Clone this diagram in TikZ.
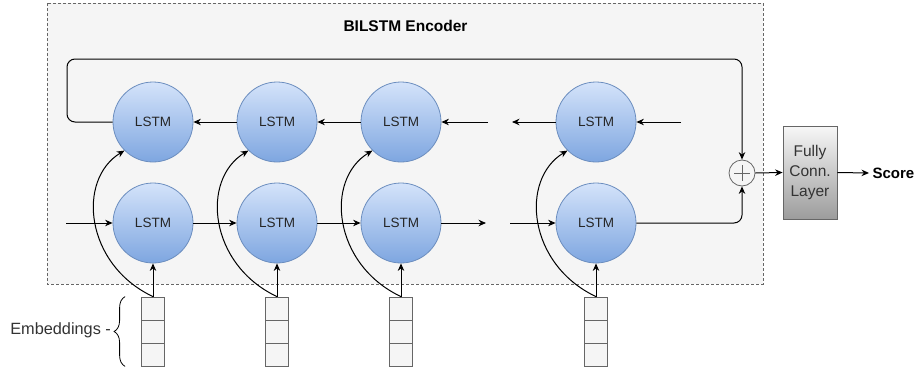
\documentclass[tikz,border=0pt]{standalone}
\usepackage{fontspec}
\setmainfont{Liberation Sans}
\usetikzlibrary{arrows.meta,decorations.pathreplacing,calc}

\definecolor{panelfill}{HTML}{F5F5F5}
\definecolor{panelline}{HTML}{666666}
\definecolor{lstmtop}{HTML}{D4E3FA}
\definecolor{lstmbot}{HTML}{7EA6E0}
\definecolor{lstmline}{HTML}{6C8EBF}
\definecolor{fctop}{HTML}{F7F7F7}
\definecolor{fcbot}{HTML}{9C9C9C}
\definecolor{txtgray}{HTML}{333333}

\tikzset{
  lstm/.style={circle, draw=lstmline, line width=0.8pt, minimum size=80pt, inner sep=0pt,
    top color=lstmtop, bottom color=lstmbot, font=\fontsize{13.5}{15}\selectfont, text=black!85},
  cell/.style={rectangle, draw=panelline, fill=panelfill, line width=0.8pt,
    minimum width=23pt, minimum height=23pt, inner sep=0pt},
  link/.style={line width=1pt, -{Stealth[length=7.5pt,width=6.5pt]}},
  plain/.style={line width=1pt},
}

\begin{document}
\begin{tikzpicture}[x=1pt, y=-1pt]
\useasboundingbox (0,0) rectangle (917,375);

% encoder panel
\draw[fill=panelfill, draw=panelline, line width=0.6pt, dash pattern=on 3pt off 2pt]
  (47,3) rectangle (763,284);
\node[font=\fontsize{15.5}{18}\selectfont\bfseries] (title) at (405.5,26) {BILSTM Encoder};

% backward (top) and forward (bottom) LSTM cells
\foreach \i/\x in {1/153, 2/277, 3/401, 4/596} {
  \node[lstm] (T\i) at (\x,122) {LSTM};
  \node[lstm] (B\i) at (\x,223) {LSTM};
  % embedding vector: three stacked cells
  \node[cell] (Ea\i) at (\x,308.5) {};
  \node[cell] (Eb\i) at (\x,331.5) {};
  \node[cell] (Ec\i) at (\x,354.5) {};
}

% sum node
\node[circle, draw=panelline, fill=panelfill, line width=0.8pt, minimum size=26pt, inner sep=0pt] (sum) at (742,173) {};
\draw[panelline, line width=0.8pt] ($(sum.center)+(-8,0)$) -- ($(sum.center)+(8,0)$)
  ($(sum.center)+(0,-8)$) -- ($(sum.center)+(0,8)$);

% fully connected layer
\node[rectangle, draw=panelline, line width=0.8pt, top color=fctop, bottom color=fcbot,
  minimum width=54pt, minimum height=93pt, inner sep=0pt, align=center,
  font=\fontsize{15.5}{20}\selectfont, text=txtgray] (fc) at (810,172.5) {Fully\\Conn.\\Layer};
\node[font=\fontsize{15}{18}\selectfont\bfseries, anchor=west] (score) at (869,173) {Score};

% open ends of the recurrent chains
\coordinate (tin3) at (488,122);
\coordinate (tout4) at (512,122);
\coordinate (tin4) at (681,122);
\coordinate (bin1) at (66,223);
\coordinate (bout3) at (486,223);
\coordinate (bin4) at (510,223);

% backward chain
\draw[link] (T2.west) -- (T1.east);
\draw[link] (T3.west) -- (T2.east);
\draw[link] (tin3) -- (T3.east);
\draw[link] (T4.west) -- (tout4);
\draw[link] (tin4) -- (T4.east);

% forward chain
\draw[link] (bin1) -- (B1.west);
\draw[link] (B1.east) -- (B2.west);
\draw[link] (B2.east) -- (B3.west);
\draw[link] (B3.east) -- (bout3);
\draw[link] (bin4) -- (B4.west);

% final states into the sum
\draw[link, rounded corners=8pt] (T1.west) -- (67,122) -- (67,59) -- (sum.north |- 0,59) -- (sum.north);
\draw[link, rounded corners=8pt] (B4.east) -- (sum.south |- B4.east) -- (sum.south);
\draw[link] (sum.east) -- (fc.west);
\draw[link] (fc.east) -- (score.west);

% embeddings feed both directions
\foreach \i in {1,2,3,4} {
  \draw[link] (Ea\i.north) -- (B\i.south);
  \draw[link] (Ea\i.north) .. controls +(-68,-32) and +(-48,29) .. (T\i.225);
}

% embeddings label with brace
\coordinate (brb) at ($(Ec1.south west)+(-16,0)$);
\coordinate (brt) at ($(Ea1.north west)+(-16,0)$);
\draw[plain, line width=0.8pt, decorate, decoration={brace, amplitude=11pt}] (brb) -- (brt);
\node[font=\fontsize{16.3}{19}\selectfont, text=txtgray, anchor=east, inner sep=0pt] (emb)
  at ($(brb)!0.5!(brt)+(-14,-1)$) {Embeddings -};
\end{tikzpicture}
\end{document}
